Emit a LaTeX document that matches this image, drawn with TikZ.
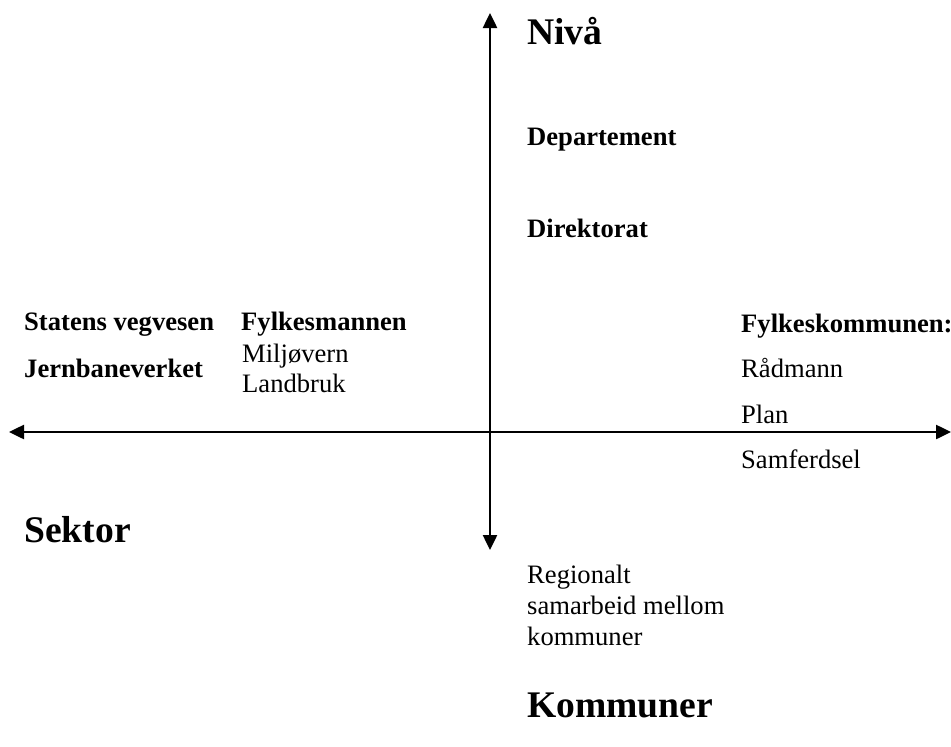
\documentclass[tikz,border=0pt]{standalone}
\usepackage{fontspec}
\setmainfont{Liberation Serif}
\usetikzlibrary{arrows.meta}
\begin{document}
\begin{tikzpicture}[x=1pt,y=-1pt,
  lbl/.style={anchor=base west,inner sep=0pt,font=\fontsize{26.6}{31}\selectfont},
  blbl/.style={lbl,font=\fontsize{26.6}{31}\selectfont\bfseries},
  big/.style={lbl,font=\fontsize{37.6}{44}\selectfont\bfseries},
  axis/.style={line width=2.5pt,{Triangle[length=15pt,width=14pt]}-{Triangle[length=15pt,width=14pt]}}]
\useasboundingbox (0,0) rectangle (951,747);
\coordinate (top) at (490,13);
\coordinate (bottom) at (490,550);
\coordinate (left) at (9,432);
\coordinate (right) at (951,432);
\draw[axis] (top) -- (bottom);
\draw[axis] (left) -- (right);
\node[big] (niva) at (527,44) {Nivå};
\node[blbl] (dep) at (527,145) {Departement};
\node[blbl] (dir) at (527,237) {Direktorat};
\node[blbl] (svv) at (24,330) {Statens vegvesen};
\node[blbl] (jbv) at (24,377) {Jernbaneverket};
\node[blbl] (fm) at (241,330) {Fylkesmannen};
\node[lbl] (milj) at (242,362) {Miljøvern};
\node[lbl] (land) at (242,392) {Landbruk};
\node[blbl] (fk) at (741,332) {Fylkeskommunen:};
\node[lbl] (rad) at (741,377) {Rådmann};
\node[lbl] (plan) at (741,423) {Plan};
\node[lbl] (samf) at (741,468) {Samferdsel};
\node[big] (sektor) at (24,542) {Sektor};
\node[lbl] (reg1) at (527,583) {Regionalt};
\node[lbl] (reg2) at (527,614) {samarbeid mellom};
\node[lbl] (reg3) at (527,645) {kommuner};
\node[big] (komm) at (527,717) {Kommuner};
\end{tikzpicture}
\end{document}
